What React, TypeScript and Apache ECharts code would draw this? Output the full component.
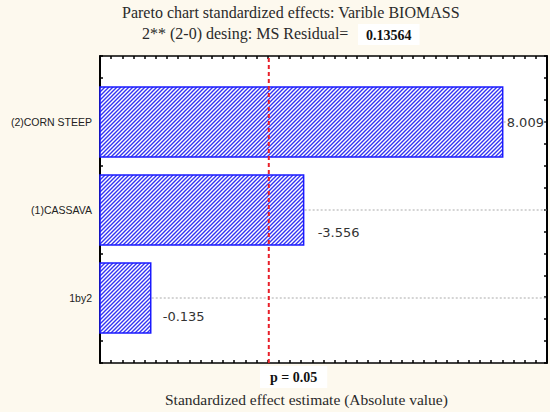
import React, { useEffect, useRef } from 'react';
import * as echarts from 'echarts';

// Effects as reported on the chart (sign kept for the labels)
const factors = ['(2)CORN STEEP', '(1)CASSAVA', '1by2'];
const effects = [8.009, -3.556, -0.135];
// where each value label sits below the bar centre (px)
const labelDrop = [0, 22, 18];
const labelGap = [4, 14, 12];
const pCritical = 2.776;
const xMin = -1;
const xMax = 9;

// small tile of "/" hatching used as the bar fill
function makeHatch(): HTMLCanvasElement {
  const s = 4;
  const c = document.createElement('canvas');
  c.width = s;
  c.height = s;
  const ctx = c.getContext('2d')!;
  ctx.fillStyle = '#fff';
  ctx.fillRect(0, 0, s, s);
  ctx.strokeStyle = '#3434f2';
  ctx.lineWidth = 1.4;
  ctx.beginPath();
  ctx.moveTo(-1, s + 1);
  ctx.lineTo(s + 1, -1);
  ctx.moveTo(-1, 1);
  ctx.lineTo(1, -1);
  ctx.moveTo(s - 1, s + 1);
  ctx.lineTo(s + 1, s - 1);
  ctx.stroke();
  return c;
}

const App: React.FC = () => {
  const chartRef = useRef<HTMLDivElement>(null);

  useEffect(() => {
    document.body.style.margin = '0';
    if (!chartRef.current) return;
    const chart = echarts.init(chartRef.current, undefined, { renderer: 'svg' });
    const hatch = { image: makeHatch(), repeat: 'repeat' };

    const frameX = {
      type: 'value',
      gridIndex: 0,
      min: xMin,
      max: xMax,
      interval: 0.25,
      axisLine: { show: true, onZero: false, lineStyle: { color: '#000', width: 1.5 } },
      axisTick: { show: true, inside: true, length: 3, lineStyle: { color: '#000', width: 1.5 } },
      axisLabel: { show: false },
      splitLine: { show: false },
    };
    const frameY = {
      type: 'value',
      gridIndex: 0,
      min: 0,
      max: 14,
      interval: 1,
      axisLine: { show: true, onZero: false, lineStyle: { color: '#000', width: 2 } },
      axisTick: { show: true, inside: true, length: 3, lineStyle: { color: '#000', width: 1.5 } },
      axisLabel: { show: false },
      splitLine: { show: false },
    };

    const option = {
      animation: false,
      backgroundColor: '#fdf9ee',
      grid: [
        { left: 100, right: 3, top: 56, bottom: 49, show: true, backgroundColor: '#fff', borderWidth: 0 },
        { left: 100, right: 3, top: 78, bottom: 70 },
      ],
      xAxis: [
        { ...frameX, position: 'bottom' },
        { ...frameX, position: 'top' },
        { type: 'value', gridIndex: 1, min: xMin, max: xMax, show: false },
      ],
      yAxis: [
        { ...frameY, position: 'left' },
        { ...frameY, position: 'right' },
        {
          type: 'category',
          gridIndex: 1,
          inverse: true,
          data: factors,
          axisLine: { show: false },
          axisTick: { show: false },
          splitLine: { show: false },
          axisLabel: {
            margin: 8,
            fontFamily: 'Liberation Sans',
            fontSize: 10.5,
            color: '#222',
          },
        },
      ],
      series: [
        {
          type: 'custom',
          xAxisIndex: 2,
          yAxisIndex: 2,
          encode: { x: 0, y: 1 },
          data: effects.map((v, i) => [Math.abs(v), i]),
          renderItem: (params: any, api: any) => {
            const i = params.dataIndex;
            const cat = api.value(1);
            const end = api.coord([api.value(0), cat]);
            const start = api.coord([xMin, cat]);
            const right = api.coord([xMax, cat]);
            const h = api.size([0, 1])[1] * 0.795;
            return {
              type: 'group',
              children: [
                {
                  type: 'line',
                  shape: { x1: end[0] + 1, y1: end[1], x2: right[0], y2: end[1] },
                  style: { stroke: '#aaa', lineWidth: 1, lineDash: [2, 2] },
                },
                {
                  type: 'rect',
                  shape: { x: start[0], y: end[1] - h / 2, width: end[0] - start[0], height: h },
                  style: { fill: hatch, stroke: '#1a1aff', lineWidth: 1.5 },
                },
                {
                  type: 'text',
                  x: end[0] + labelGap[i],
                  y: end[1] + labelDrop[i],
                  style: {
                    text: effects[i].toFixed(3),
                    font: '13px "DejaVu Sans"',
                    fill: '#333',
                    backgroundColor: '#fff',
                    verticalAlign: 'middle',
                    align: 'left',
                  },
                },
              ],
            };
          },
        },
        {
          type: 'line',
          xAxisIndex: 0,
          yAxisIndex: 0,
          symbol: 'none',
          data: [
            [pCritical, 0],
            [pCritical, 14],
          ],
          lineStyle: { color: '#e8202a', width: 2, type: [4, 3] },
          z: 5,
        },
      ],
      graphic: [
        {
          type: 'text',
          left: 122,
          top: 4,
          style: {
            text: 'Pareto chart standardized effects: Varible BIOMASS',
            font: '16px "Liberation Serif"',
            fill: '#2a2a2a',
          },
        },
        {
          type: 'text',
          left: 142,
          top: 25,
          style: {
            text: '2** (2-0) desing: MS Residual=',
            font: '16px "Liberation Serif"',
            fill: '#2a2a2a',
          },
        },
        {
          type: 'text',
          left: 358,
          top: 24,
          style: {
            text: '0.13564',
            font: 'bold 14px "Liberation Serif"',
            fill: '#111',
            backgroundColor: '#fff',
            padding: [4, 8, 3, 8],
          },
        },
        {
          type: 'text',
          left: 260,
          top: 366,
          style: {
            text: 'p = 0.05',
            font: 'bold 14px "Liberation Serif"',
            fill: '#111',
            backgroundColor: '#fff',
            padding: [4, 10, 4, 10],
          },
        },
        {
          type: 'text',
          left: 165,
          top: 391,
          style: {
            text: 'Standardized effect estimate (Absolute value)',
            font: '15.5px "Liberation Serif"',
            fill: '#2a2a2a',
          },
        },
      ],
    };

    chart.setOption(option);
    return () => {
      chart.dispose();
    };
  }, []);

  return <div ref={chartRef} style={{ width: '550px', height: '412px' }} />;
};

export default App;
